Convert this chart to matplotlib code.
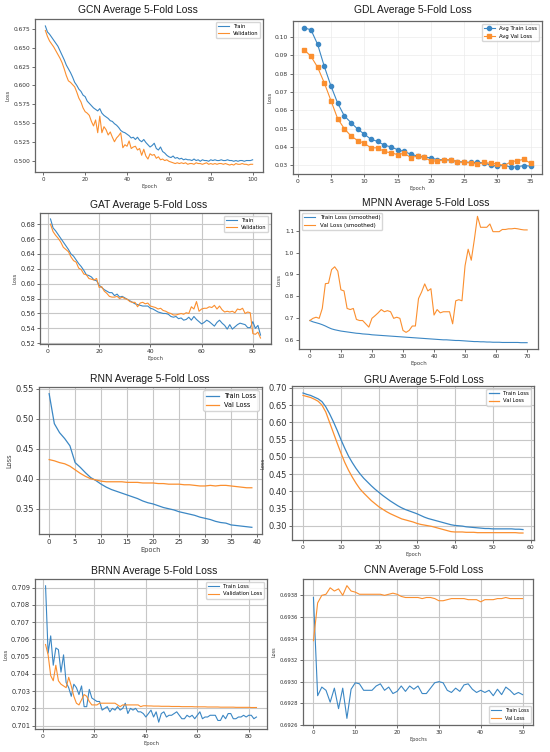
import matplotlib
matplotlib.use("Agg")
import matplotlib.pyplot as plt

W, H = 550, 752

# ---- data ----
gcn_epochs = list(range(1, 101))
gcn_train = [0.679, 0.671, 0.668, 0.664, 0.660, 0.656, 0.652, 0.646, 0.640, 0.634,
             0.627, 0.622, 0.617, 0.611, 0.604, 0.600, 0.595, 0.592, 0.587, 0.585,
             0.579, 0.576, 0.573, 0.570, 0.568, 0.566, 0.569, 0.563, 0.560, 0.558,
             0.556, 0.553, 0.552, 0.549, 0.547, 0.544, 0.540, 0.538, 0.537, 0.535,
             0.533, 0.530, 0.531, 0.528, 0.531, 0.527, 0.525, 0.528, 0.524, 0.521,
             0.518, 0.520, 0.523, 0.516, 0.514, 0.518, 0.512, 0.510, 0.507, 0.505,
             0.504, 0.506, 0.503, 0.504, 0.502, 0.503, 0.501, 0.502, 0.501, 0.501,
             0.500, 0.502, 0.500, 0.501, 0.499, 0.501, 0.500, 0.500, 0.499, 0.501,
             0.500, 0.501, 0.500, 0.500, 0.501, 0.500, 0.500, 0.501, 0.500, 0.500,
             0.499, 0.500, 0.499, 0.500, 0.500, 0.499, 0.500, 0.500, 0.500, 0.501]
gcn_val = [0.673, 0.665, 0.659, 0.655, 0.651, 0.646, 0.641, 0.636, 0.630, 0.622,
           0.613, 0.606, 0.604, 0.601, 0.598, 0.591, 0.583, 0.578, 0.570, 0.565,
           0.563, 0.560, 0.552, 0.546, 0.554, 0.537, 0.559, 0.537, 0.545, 0.541,
           0.534, 0.538, 0.531, 0.525, 0.530, 0.533, 0.537, 0.517, 0.521, 0.519,
           0.526, 0.516, 0.518, 0.519, 0.514, 0.516, 0.507, 0.515, 0.506, 0.502,
           0.509, 0.507, 0.508, 0.503, 0.505, 0.501, 0.502, 0.500, 0.501, 0.499,
           0.498, 0.497, 0.496, 0.497, 0.496, 0.497, 0.496, 0.497, 0.495, 0.496,
           0.496, 0.495, 0.497, 0.496, 0.496, 0.495, 0.496, 0.497, 0.495, 0.496,
           0.495, 0.496, 0.495, 0.496, 0.496, 0.495, 0.496, 0.495, 0.494, 0.495,
           0.494, 0.496, 0.495, 0.495, 0.496, 0.495, 0.495, 0.494, 0.495, 0.495]

gdl_epochs = list(range(1, 36))
gdl_train = [0.105, 0.104, 0.096, 0.084, 0.0733, 0.064, 0.057, 0.0533, 0.0498, 0.047,
             0.0442, 0.043, 0.041, 0.040, 0.0385, 0.0375, 0.036, 0.035, 0.0345, 0.034,
             0.033, 0.033, 0.0328, 0.032, 0.0318, 0.0315, 0.0315, 0.0313, 0.030, 0.0295,
             0.030, 0.029, 0.0292, 0.0298, 0.0295]
gdl_val = [0.093, 0.0895, 0.0835, 0.075, 0.0653, 0.0555, 0.050, 0.046, 0.0435, 0.042,
           0.0395, 0.0395, 0.0375, 0.0368, 0.0358, 0.0365, 0.0342, 0.035, 0.0343, 0.0323,
           0.0323, 0.033, 0.033, 0.0318, 0.0315, 0.0313, 0.0305, 0.0315, 0.031, 0.0308,
           0.0298, 0.0318, 0.0325, 0.0332, 0.031]

gat_epochs = list(range(1, 84))
gat_train = [0.687, 0.675, 0.671, 0.666, 0.661, 0.656, 0.651, 0.646, 0.640, 0.637,
             0.632, 0.627, 0.623, 0.618, 0.612, 0.611, 0.609, 0.605, 0.604, 0.598,
             0.595, 0.592, 0.590, 0.588, 0.588, 0.584, 0.586, 0.582, 0.583, 0.581,
             0.579, 0.577, 0.575, 0.573, 0.572, 0.571, 0.570, 0.570, 0.570, 0.567,
             0.566, 0.564, 0.562, 0.561, 0.560, 0.560, 0.559, 0.556, 0.555, 0.556,
             0.553, 0.554, 0.551, 0.552, 0.555, 0.551, 0.556, 0.552, 0.549, 0.546,
             0.548, 0.551, 0.549, 0.546, 0.543, 0.548, 0.551, 0.547, 0.544, 0.539,
             0.545, 0.539, 0.542, 0.545, 0.547, 0.546, 0.545, 0.541, 0.541, 0.549,
             0.540, 0.544, 0.531]
gat_val = [0.680, 0.670, 0.665, 0.661, 0.656, 0.649, 0.646, 0.643, 0.636, 0.631,
           0.629, 0.621, 0.619, 0.613, 0.612, 0.607, 0.606, 0.605, 0.607, 0.595,
           0.596, 0.590, 0.587, 0.583, 0.582, 0.582, 0.583, 0.580, 0.582, 0.580,
           0.579, 0.576, 0.575, 0.575, 0.569, 0.574, 0.575, 0.573, 0.574, 0.570,
           0.569, 0.568, 0.566, 0.567, 0.564, 0.563, 0.561, 0.560, 0.558, 0.558,
           0.559, 0.560, 0.559, 0.561, 0.560, 0.569, 0.566, 0.576, 0.563, 0.566,
           0.567, 0.567, 0.569, 0.568, 0.571, 0.566, 0.570, 0.565, 0.562, 0.563,
           0.562, 0.563, 0.561, 0.566, 0.565, 0.567, 0.560, 0.562, 0.561, 0.533,
           0.532, 0.535, 0.527]

mpnn_epochs = list(range(0, 71))
mpnn_train = [0.690, 0.684, 0.680, 0.676, 0.671, 0.665, 0.658, 0.652, 0.648, 0.645,
              0.642, 0.640, 0.638, 0.636, 0.634, 0.632, 0.631, 0.629, 0.628, 0.627,
              0.625, 0.624, 0.623, 0.622, 0.621, 0.620, 0.619, 0.618, 0.617, 0.616,
              0.615, 0.614, 0.613, 0.612, 0.611, 0.610, 0.609, 0.608, 0.607, 0.606,
              0.605, 0.604, 0.603, 0.602, 0.602, 0.601, 0.600, 0.599, 0.599, 0.598,
              0.597, 0.596, 0.595, 0.594, 0.594, 0.593, 0.593, 0.592, 0.592, 0.591,
              0.591, 0.591, 0.590, 0.590, 0.590, 0.590, 0.590, 0.590, 0.589, 0.589,
              0.589]
mpnn_val = [0.690, 0.700, 0.705, 0.700, 0.745, 0.858, 0.860, 0.922, 0.935, 0.915,
            0.830, 0.825, 0.745, 0.740, 0.745, 0.695, 0.690, 0.690, 0.675, 0.660,
            0.700, 0.712, 0.725, 0.740, 0.730, 0.735, 0.730, 0.700, 0.705, 0.700,
            0.645, 0.636, 0.645, 0.665, 0.665, 0.790, 0.820, 0.857, 0.825, 0.835,
            0.715, 0.740, 0.725, 0.730, 0.730, 0.730, 0.675, 0.780, 0.785, 0.780,
            0.940, 1.015, 0.965, 1.060, 1.165, 1.115, 1.115, 1.115, 1.130, 1.095,
            1.095, 1.095, 1.105, 1.105, 1.108, 1.108, 1.110, 1.108, 1.105, 1.103,
            1.103]

rnn_epochs = list(range(0, 40))
rnn_train = [0.542, 0.492, 0.477, 0.467, 0.455, 0.427, 0.419, 0.410, 0.402, 0.397,
             0.391, 0.386, 0.382, 0.379, 0.376, 0.373, 0.370, 0.367, 0.363, 0.360,
             0.358, 0.355, 0.352, 0.350, 0.348, 0.345, 0.343, 0.341, 0.339, 0.336,
             0.334, 0.332, 0.329, 0.327, 0.326, 0.323, 0.322, 0.321, 0.320, 0.319]
rnn_val = [0.432, 0.430, 0.427, 0.425, 0.421, 0.415, 0.409, 0.404, 0.400, 0.398,
           0.396, 0.395, 0.395, 0.395, 0.395, 0.394, 0.394, 0.394, 0.393, 0.393,
           0.393, 0.392, 0.392, 0.391, 0.391, 0.391, 0.390, 0.390, 0.389, 0.388,
           0.388, 0.389, 0.388, 0.389, 0.389, 0.388, 0.387, 0.386, 0.385, 0.385]

gru_epochs = list(range(0, 59))
gru_train = [0.685, 0.681, 0.678, 0.673, 0.668, 0.660, 0.645, 0.625, 0.602, 0.577,
             0.550, 0.525, 0.502, 0.483, 0.466, 0.451, 0.438, 0.427, 0.416, 0.406,
             0.397, 0.388, 0.380, 0.372, 0.365, 0.358, 0.352, 0.347, 0.343, 0.339,
             0.335, 0.330, 0.325, 0.321, 0.318, 0.315, 0.312, 0.309, 0.306, 0.303,
             0.301, 0.300, 0.299, 0.297, 0.296, 0.295, 0.294, 0.293, 0.292, 0.292,
             0.291, 0.291, 0.291, 0.291, 0.291, 0.291, 0.290, 0.290, 0.289]
gru_val = [0.678, 0.675, 0.672, 0.667, 0.661, 0.650, 0.630, 0.600, 0.570, 0.540,
           0.511, 0.484, 0.461, 0.441, 0.423, 0.407, 0.395, 0.384, 0.373, 0.364,
           0.355, 0.348, 0.341, 0.335, 0.330, 0.325, 0.320, 0.317, 0.314, 0.311,
           0.307, 0.304, 0.302, 0.300, 0.298, 0.295, 0.292, 0.289, 0.286, 0.283,
           0.282, 0.282, 0.282, 0.281, 0.281, 0.281, 0.280, 0.280, 0.280, 0.280,
           0.280, 0.280, 0.280, 0.280, 0.280, 0.280, 0.280, 0.279, 0.279]

brnn_epochs = list(range(1, 84))
brnn_train = [0.7091, 0.7052, 0.7062, 0.7045, 0.7055, 0.7054, 0.7041, 0.7051, 0.7035, 0.7032,
              0.7027, 0.7034, 0.7032, 0.7028, 0.7033, 0.7021, 0.7021, 0.7031, 0.7026, 0.7025,
              0.7024, 0.7024, 0.7019, 0.7020, 0.7021, 0.7018, 0.7020, 0.7019, 0.7021, 0.7019,
              0.7020, 0.7023, 0.7017, 0.7020, 0.7019, 0.7020, 0.7018, 0.7018, 0.7017, 0.7015,
              0.7017, 0.7019, 0.7015, 0.7018, 0.7012, 0.7017, 0.7018, 0.7015, 0.7016, 0.7016,
              0.7017, 0.7018, 0.7016, 0.7014, 0.7014, 0.7016, 0.7015, 0.7016, 0.7014, 0.7016,
              0.7018, 0.7014, 0.7015, 0.7015, 0.7016, 0.7016, 0.7016, 0.7013, 0.7013, 0.7016,
              0.7014, 0.7017, 0.7017, 0.7014, 0.7014, 0.7015, 0.7015, 0.7016, 0.7015, 0.7016,
              0.7016, 0.7014, 0.7015]
brnn_val = [0.7057, 0.7051, 0.7039, 0.7036, 0.7045, 0.7036, 0.7034, 0.7033, 0.7032, 0.7038,
            0.7033, 0.7027, 0.7023, 0.7022, 0.7025, 0.7028, 0.7027, 0.7024, 0.7022, 0.7022,
            0.7022, 0.7023, 0.7023, 0.7023, 0.7023, 0.7023, 0.7023, 0.7023, 0.7022, 0.7021,
            0.7022, 0.7022, 0.7022, 0.7022, 0.7022, 0.7022, 0.7022, 0.7021, 0.70215, 0.70215,
            0.70214, 0.70214, 0.70213, 0.70213, 0.70213, 0.70212, 0.70212, 0.70212, 0.70212, 0.70211,
            0.70211, 0.70211, 0.70211, 0.70210, 0.70210, 0.70210, 0.70210, 0.70210, 0.70209, 0.70209,
            0.70209, 0.70209, 0.70209, 0.70208, 0.70208, 0.70208, 0.70208, 0.70208, 0.70207, 0.70207,
            0.70207, 0.70207, 0.70207, 0.70207, 0.70206, 0.70206, 0.70206, 0.70206, 0.70206, 0.70206,
            0.70205, 0.70205, 0.70205]

cnn_epochs = list(range(0, 51))
cnn_train = [0.69378, 0.69287, 0.69295, 0.69292, 0.69281, 0.69294, 0.69275, 0.69294, 0.69266, 0.69293,
             0.69299, 0.69298, 0.69292, 0.69292, 0.69292, 0.69296, 0.69298, 0.69292, 0.69295, 0.69289,
             0.69291, 0.69296, 0.69291, 0.69296, 0.69293, 0.69296, 0.69289, 0.69289, 0.69294, 0.69299,
             0.69300, 0.69299, 0.69292, 0.69290, 0.69294, 0.69291, 0.69297, 0.69298, 0.69293, 0.69290,
             0.69292, 0.69290, 0.69292, 0.69287, 0.69293, 0.69288, 0.69295, 0.69292, 0.69288, 0.69290,
             0.69288]
cnn_val = [0.69338, 0.69373, 0.69380, 0.69381, 0.69387, 0.69384, 0.69386, 0.69380, 0.69389, 0.69384,
           0.69383, 0.69381, 0.69381, 0.69381, 0.69381, 0.69381, 0.69381, 0.69380, 0.69381, 0.69382,
           0.69381, 0.69379, 0.69378, 0.69378, 0.69378, 0.69378, 0.69377, 0.69378, 0.69378, 0.69377,
           0.69375, 0.69375, 0.69376, 0.69377, 0.69377, 0.69377, 0.69377, 0.69376, 0.69376, 0.69376,
           0.69374, 0.69376, 0.69376, 0.69376, 0.69377, 0.69377, 0.69378, 0.69377, 0.69377, 0.69377,
           0.69377]

BLUE = '#3b87c4'
ORANGE = '#fb8f2f'

fig = plt.figure(figsize=(W / 100, H / 100), dpi=100)


def make_axes(left, top, right, bottom):
    return fig.add_axes([left / W, 1 - bottom / H, (right - left) / W, (bottom - top) / H])


def style(ax, xsize, ysize, labsize, grid, xlabel='Epoch'):
    ax.tick_params(axis='x', labelsize=xsize, length=2, width=0.5, pad=1.5, colors='0.2')
    ax.tick_params(axis='y', labelsize=ysize, length=2, width=0.5, pad=1.5, colors='0.2')
    for s in ax.spines.values():
        s.set_color('0.4')
        s.set_linewidth(0.9)
    if grid:
        ax.grid(True, color='0.78', linewidth=0.8)
    ax.set_xlabel(xlabel, fontsize=labsize, labelpad=1.5, color='0.25')
    ax.set_ylabel('Loss', fontsize=labsize, labelpad=2, color='0.25')


def title(cx, cy, text):
    fig.text(cx / W, 1 - cy / H, text, ha='center', va='center',
             fontsize=7.4, family='Liberation Sans', color='0.1')


# GCN
ax = make_axes(35, 19, 263, 172)
ax.plot(gcn_epochs, gcn_train, color=BLUE, lw=0.8, label='Train')
ax.plot(gcn_epochs, gcn_val, color=ORANGE, lw=0.8, label='Validation')
style(ax, 4, 4.2, 3.8, False)
ax.legend(loc='upper right', fontsize=3.7)
title(138, 10, 'GCN Average 5-Fold Loss')

# GDL
ax = make_axes(293, 21, 542, 174)
ax.plot(gdl_epochs, gdl_train, color=BLUE, lw=0.8, marker='o', ms=3, label='Avg Train Loss')
ax.plot(gdl_epochs, gdl_val, color=ORANGE, lw=0.8, marker='s', ms=3, label='Avg Val Loss')
style(ax, 4.3, 4.3, 3.8, False)
ax.grid(True, color='0.92', linewidth=0.5)
ax.legend(loc='upper right', fontsize=3.9)
title(413, 10, 'GDL Average 5-Fold Loss')

# GAT
ax = make_axes(40, 213, 271, 344)
ax.plot(gat_epochs, gat_train, color=BLUE, lw=0.8, label='Train')
ax.plot(gat_epochs, gat_val, color=ORANGE, lw=0.8, label='Validation')
style(ax, 4.4, 4.8, 3.8, True)
ax.legend(loc='upper right', fontsize=3.7)
title(149, 205, 'GAT Average 5-Fold Loss')

# MPNN
ax = make_axes(299, 210, 538, 349)
ax.plot(mpnn_epochs, mpnn_train, color=BLUE, lw=0.8, label='Train Loss (smoothed)')
ax.plot(mpnn_epochs, mpnn_val, color=ORANGE, lw=0.8, label='Val Loss (smoothed)')
style(ax, 4.2, 4.2, 4.0, False)
ax.legend(loc='upper left', fontsize=4.0)
title(426, 203, 'MPNN Average 5-Fold Loss')

# RNN
ax = make_axes(39, 387, 262, 534)
ax.plot(rnn_epochs, rnn_train, color=BLUE, lw=0.9, label='Train Loss')
ax.plot(rnn_epochs, rnn_val, color=ORANGE, lw=0.9, label='Val Loss')
style(ax, 5, 6, 4.8, True)
ax.legend(loc='upper right', fontsize=4.7)
title(150, 379, 'RNN Average 5-Fold Loss')

# GRU
ax = make_axes(292, 386, 534, 540)
ax.plot(gru_epochs, gru_train, color=BLUE, lw=0.9, label='Train Loss')
ax.plot(gru_epochs, gru_val, color=ORANGE, lw=0.9, label='Val Loss')
style(ax, 4.4, 6, 3.8, True)
ax.legend(loc='upper right', fontsize=3.8)
title(424, 380, 'GRU Average 5-Fold Loss')

# BRNN
ax = make_axes(35, 579, 267, 729)
ax.plot(brnn_epochs, brnn_train, color=BLUE, lw=0.8, label='Train Loss')
ax.plot(brnn_epochs, brnn_val, color=ORANGE, lw=0.8, label='Validation Loss')
style(ax, 4.4, 4.8, 3.8, True)
ax.legend(loc='upper right', fontsize=3.8)
title(154, 571, 'BRNN Average 5-Fold Loss')

# CNN
ax = make_axes(303, 579, 533, 725)
ax.plot(cnn_epochs, cnn_train, color=BLUE, lw=0.8, label='Train Loss')
ax.plot(cnn_epochs, cnn_val, color=ORANGE, lw=0.8, label='Val Loss')
style(ax, 4.1, 3.8, 3.6, True, xlabel='Epochs')
ax.legend(loc='lower right', fontsize=3.5)
title(424, 570, 'CNN Average 5-Fold Loss')

fig.savefig('out.png', dpi=100)
